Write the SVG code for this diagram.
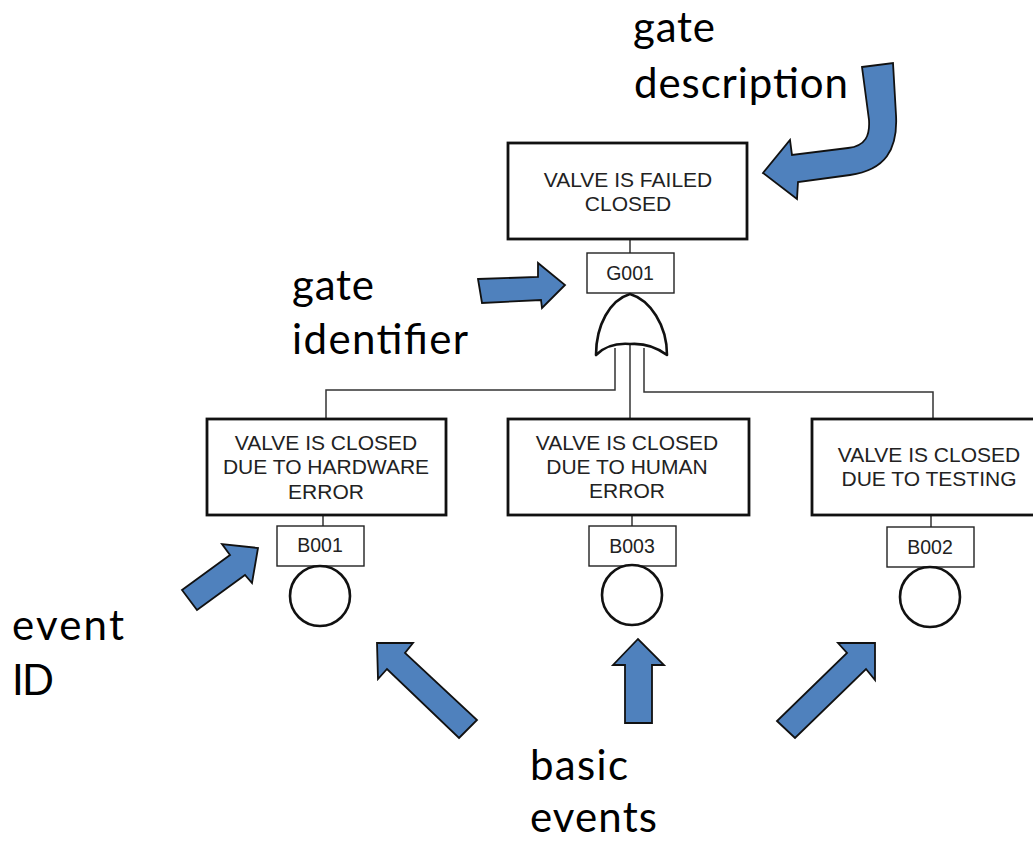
<svg xmlns="http://www.w3.org/2000/svg" width="1033" height="841" viewBox="0 0 1033 841">
  <style>
    .evt { fill: #fff; stroke: #111; stroke-width: 2.8; }
    .idb { fill: #fff; stroke: #222; stroke-width: 1.4; }
    .wire { fill: none; stroke: #333; stroke-width: 1.5; }
    .basic { fill: #fff; stroke: #111; stroke-width: 2.6; }
    .gate { fill: #fff; stroke: #111; stroke-width: 2.6; stroke-linejoin: round; }
    .t { font-family: "Liberation Sans", Arial, sans-serif; font-size: 21px; fill: #222; text-anchor: middle; }
    .tid { font-family: "Liberation Sans", Arial, sans-serif; font-size: 19.5px; fill: #222; text-anchor: middle; }
    .callout { fill: #4F81BD; stroke: #111; stroke-width: 1.8; stroke-linejoin: miter; }
    .lbl { font-family: Lato, "Open Sans", "Liberation Sans", sans-serif; font-size: 42px; fill: #000; }
  </style>

  <!-- connectors -->
  <g id="connectors">
    <line class="wire" x1="630" y1="239" x2="630" y2="253"/>
    <polyline class="wire" points="615,348 615,390 326,390 326,419"/>
    <line class="wire" x1="630" y1="344" x2="630" y2="419"/>
    <polyline class="wire" points="644,348 644,392 933,392 933,419"/>
    <line class="wire" x1="323" y1="515" x2="323" y2="526"/>
    <line class="wire" x1="632" y1="515" x2="632" y2="526"/>
    <line class="wire" x1="931" y1="515" x2="931" y2="527"/>
  </g>

  <!-- top event with OR gate -->
  <g id="top-event">
    <rect class="evt" x="508" y="143" width="239" height="96"/>
    <text class="t" x="628" y="187">VALVE IS FAILED</text>
    <text class="t" x="628" y="211">CLOSED</text>
  </g>
  <g id="gate-G001">
    <rect class="idb" x="587" y="253" width="87" height="40"/>
    <text class="tid" x="630" y="280">G001</text>
    <path class="gate" d="M596,355 C596,325 610,300 630,294 C650,300 667,325 667,355 C655,346 643,343 630,344 C617,343 605,346 596,355 Z"/>
  </g>

  <!-- basic events -->
  <g id="event-B001">
    <rect class="evt" x="207" y="419" width="239" height="96"/>
    <text class="t" x="326" y="450">VALVE IS CLOSED</text>
    <text class="t" x="326" y="474">DUE TO HARDWARE</text>
    <text class="t" x="326" y="499">ERROR</text>
    <rect class="idb" x="277" y="526" width="87" height="40"/>
    <text class="tid" x="320" y="552">B001</text>
    <circle class="basic" cx="320" cy="596" r="30"/>
  </g>
  <g id="event-B003">
    <rect class="evt" x="508" y="419" width="241" height="96"/>
    <text class="t" x="627" y="450">VALVE IS CLOSED</text>
    <text class="t" x="627" y="474">DUE TO HUMAN</text>
    <text class="t" x="627" y="498">ERROR</text>
    <rect class="idb" x="589" y="526" width="87" height="40"/>
    <text class="tid" x="632" y="553">B003</text>
    <circle class="basic" cx="632" cy="595" r="30"/>
  </g>
  <g id="event-B002">
    <rect class="evt" x="812" y="419" width="239" height="96"/>
    <text class="t" x="929" y="462">VALVE IS CLOSED</text>
    <text class="t" x="929" y="486">DUE TO TESTING</text>
    <rect class="idb" x="887" y="527" width="87" height="40"/>
    <text class="tid" x="930" y="554">B002</text>
    <circle class="basic" cx="930" cy="597" r="30"/>
  </g>

  <!-- callout arrows -->
  <g id="callouts">
    <path class="callout" d="M862,67 L893,63 L896,115 C898,150 885,170 850,175 L798,182 L797,199 L763,173 L790,140 L792,155 L848,148 C866,146 870,135 869,120 Z"/>
    <path class="callout" d="M478,279 L538,277 L538,263 L565,285 L542,308 L541,300 L482,303 Z"/>
    <path class="callout" d="M182,590 L230,555 L222,544 L258,548 L252,583 L245,575 L197,610 Z"/>
    <path class="callout" d="M459,738 L477,720 L405,653 L413,643 L377,643 L378,679 L387,669 Z"/>
    <path class="callout" d="M625,723 L652,723 L652,665 L664,665 L638,639 L613,665 L625,665 Z"/>
    <path class="callout" d="M777,721 L795,738 L866,669 L875,680 L875,643 L838,643 L847,653 Z"/>
  </g>

  <!-- annotation labels -->
  <g id="labels">
    <text class="lbl" x="633" y="42" textLength="82">gate</text>
    <text class="lbl" x="634" y="98" textLength="214">description</text>
    <text class="lbl" x="292" y="300" textLength="82">gate</text>
    <text class="lbl" x="292" y="354" textLength="176">identifier</text>
    <text class="lbl" x="12" y="640" textLength="112">event</text>
    <text class="lbl" x="12" y="695" textLength="42">ID</text>
    <text class="lbl" x="530" y="780" textLength="98">basic</text>
    <text class="lbl" x="530" y="832" textLength="127">events</text>
  </g>
</svg>
